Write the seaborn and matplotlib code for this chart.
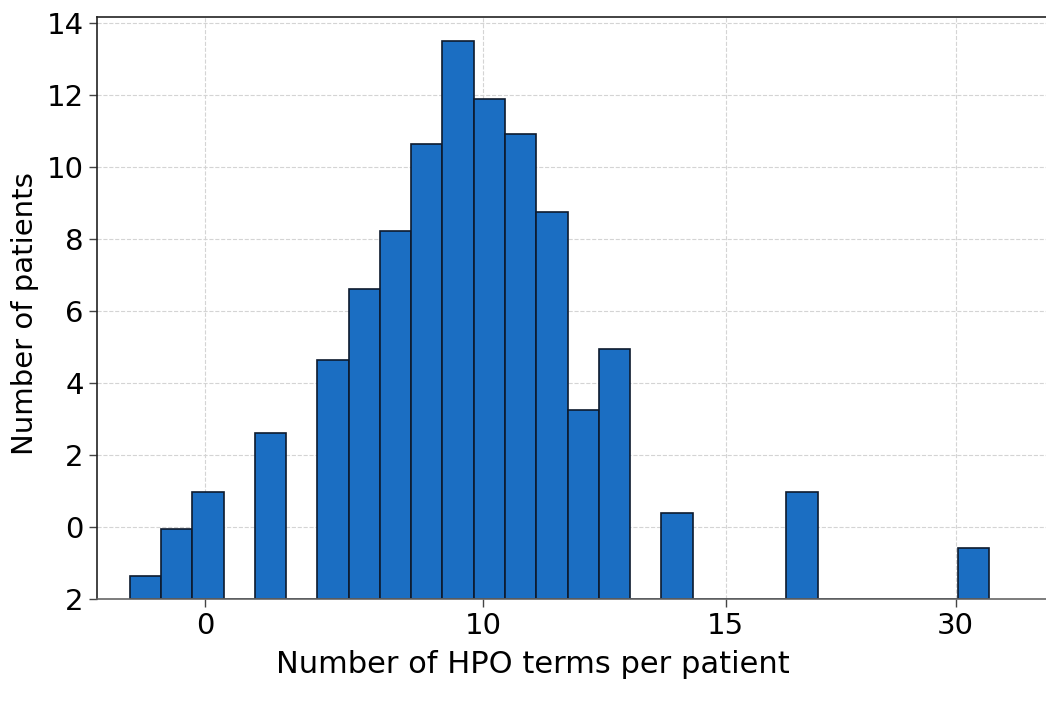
import numpy as np
import seaborn as sns
import matplotlib
matplotlib.use("Agg")
import matplotlib.pyplot as plt

# Bin left edges (in bin-width units) and bar heights measured from the axis floor
bin_lefts = [0, 1, 2, 4, 6, 7, 8, 9, 10, 11, 12, 13, 14, 15, 17, 21, 26.5]
bar_heights = [0.65, 1.95, 2.97, 4.61, 6.64, 8.62, 10.22, 12.64, 15.48,
               13.88, 12.9, 10.74, 5.25, 6.94, 2.40, 2.97, 1.41]

# Tick labels as printed on the chart
x_tick_pos = [2.4, 11.29, 19.06, 26.42]
x_tick_labels = ['0', '10', '15', '30']
y_tick_pos = [0, 2, 4, 6, 8, 10, 12, 14, 16]
y_tick_labels = ['2', '0', '2', '4', '6', '8', '10', '12', '14']

sns.set_style("white")
plt.rcParams['font.family'] = ['DejaVu Sans']
plt.rcParams['text.color'] = 'black'
plt.rcParams['axes.labelcolor'] = 'black'
plt.rcParams['xtick.color'] = 'black'
plt.rcParams['ytick.color'] = 'black'

edges = sorted(set(bin_lefts) | set(l + 1 for l in bin_lefts))
centers = [l + 0.5 for l in bin_lefts]

fig = plt.figure(figsize=(10.46, 7.04), dpi=100)
ax = fig.add_axes([0.0927, 0.149, 0.9073, 0.827])

sns.histplot(x=centers, weights=bar_heights, bins=edges, ax=ax,
             color='#1b6ec2', alpha=1, edgecolor='#0d1a2e', linewidth=1.2)

ax.set_xlim(-1.056, 29.31)
ax.set_ylim(0, 16.16)
ax.set_xticks(x_tick_pos)
ax.set_xticklabels(x_tick_labels)
ax.set_yticks(y_tick_pos)
ax.set_yticklabels(y_tick_labels)
ax.tick_params(axis='both', labelsize=21, length=6, width=1, direction='out',
               color='#444444', bottom=True, left=True)

ax.grid(True, linestyle='--', color='#d4d4d4', linewidth=0.8)
ax.set_axisbelow(True)

for s in ['left', 'top']:
    ax.spines[s].set_color('#222222')
    ax.spines[s].set_linewidth(1.2)
ax.spines['bottom'].set_color('#666666')
ax.spines['bottom'].set_linewidth(1.2)
ax.spines['right'].set_visible(False)

ax.set_xlabel('Number of HPO terms per patient', fontsize=22)
ax.set_ylabel('Number of patients', fontsize=21)
ax.xaxis.set_label_coords(0.459, -0.088)
ax.yaxis.set_label_coords(-0.061, 0.49)

fig.savefig('out.png', dpi=100)
